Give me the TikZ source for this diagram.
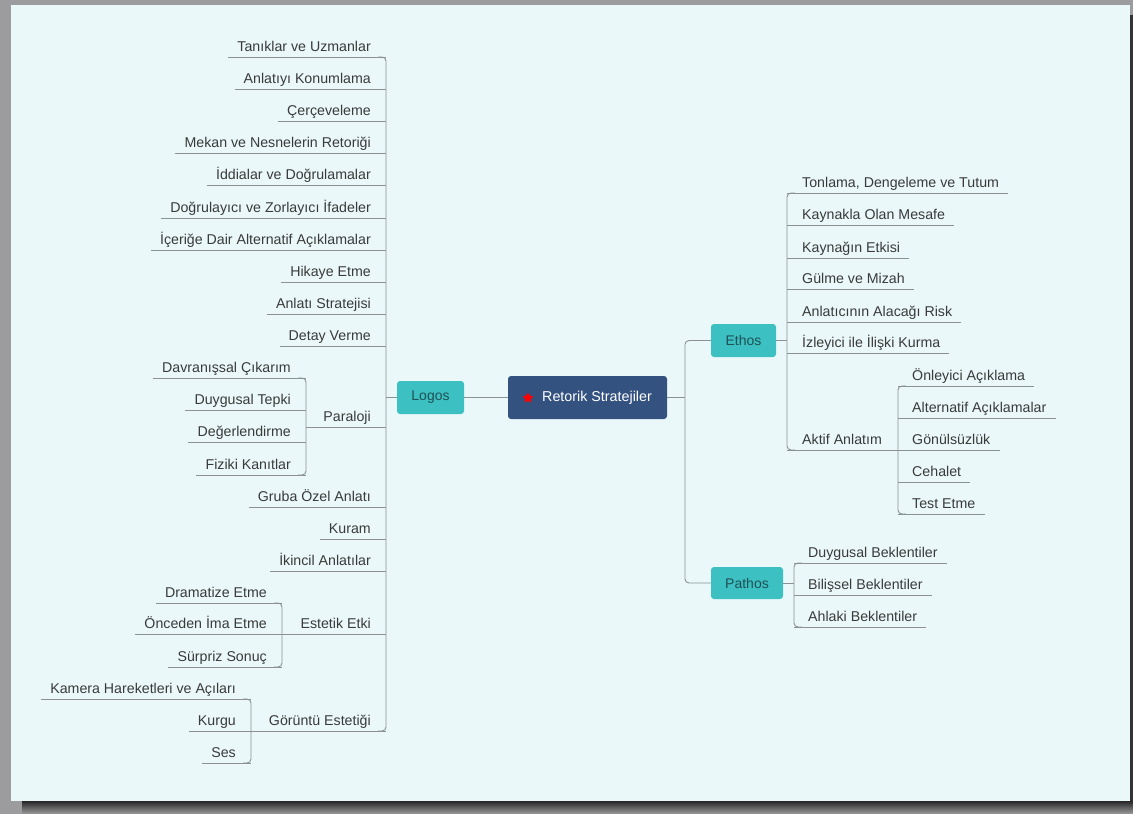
\documentclass[tikz,border=0pt]{standalone}
\usepackage{fontspec}
\setmainfont{Liberation Sans}
\usetikzlibrary{calc,shapes.geometric}
\definecolor{canvas}{HTML}{EAF8F9}
\definecolor{outer}{HTML}{9C9C9E}
\definecolor{edge}{HTML}{8C9194}
\definecolor{txt}{HTML}{3A3A3A}
\definecolor{tealbox}{HTML}{3CC0C1}
\definecolor{tealtxt}{HTML}{1F5157}
\definecolor{navy}{HTML}{34527F}
\tikzset{
  lbl/.style={inner sep=0pt, text=txt, font=\fontsize{14.2}{16}\selectfont},
  conn/.style={draw=edge, line width=0.9pt},
  spine/.style={draw=edge, line width=0.9pt, rounded corners=4pt},
  cat/.style={fill=tealbox, rounded corners=3pt, text=tealtxt, inner sep=0pt,
    font=\fontsize{14}{16}\selectfont},
}
% left item: name, text right x, spine x, underline y, text
\newcommand\LItem[5]{%
  \node[lbl, anchor=base east] (#1) at (#2,#4-6) {#5};
  \draw[conn] ($(#1.base west)+(-9,6)$) -- (#3,#4);}
% right item: name, text left x, spine x, underline y, text
\newcommand\RItem[5]{%
  \node[lbl, anchor=base west] (#1) at (#2,#4-6) {#5};
  \draw[conn] (#3,#4) -- ($(#1.base east)+(9,6)$);}
\begin{document}
\begin{tikzpicture}[x=1pt,y=-1pt]
\useasboundingbox (0,0) rectangle (1133,814);
\fill[outer] (0,0) rectangle (1133,814);
\shade[top color=black!85, bottom color=outer] (22,801) rectangle (1133,814);
\fill[black!80] (1129,15) rectangle (1133,801);
\fill[canvas] (11,5) rectangle (1130,801);

% central nodes
\node[fill=navy, rounded corners=3pt, minimum width=159pt, minimum height=43pt, inner sep=0pt] (root) at (587.5,397.5) {};
\node[star, star points=5, star point ratio=1.8, fill=red, draw=none, minimum size=11pt, inner sep=0pt] (icon) at (528,398) {};
\node[inner sep=0pt, text=white, font=\fontsize{14.3}{16}\selectfont, anchor=west] (roottext) at (542,397.5) {Retorik Stratejiler};
\node[cat, minimum width=67pt, minimum height=33pt] (logos) at (430.5,397.5) {Logos};
\node[cat, minimum width=65pt, minimum height=33pt] (ethos) at (743.5,340.5) {Ethos};
\node[cat, minimum width=72pt, minimum height=32pt] (pathos) at (747,583) {Pathos};

\draw[conn] (logos.east) -- (root.west);
\coordinate (lsp) at (386,397.5);
\draw[conn] (lsp) -- (logos.west);
\coordinate (rsp) at (685,397.5);
\draw[conn] (root.east) -- (rsp);
\draw[spine] (ethos.west) -- (685,340.5) -- (685,583) -- (pathos.west);

% left spine
\draw[spine] (378,57) -- (386,57) -- (386,731) -- (378,731);
\LItem{tan}{371}{386}{57}{Tanıklar ve Uzmanlar}
\LItem{anl}{371}{386}{89}{Anlatıyı Konumlama}
\LItem{cer}{371}{386}{121}{Çerçeveleme}
\LItem{mek}{371}{386}{153}{Mekan ve Nesnelerin Retoriği}
\LItem{idd}{371}{386}{185}{İddialar ve Doğrulamalar}
\LItem{dog}{371}{386}{218}{Doğrulayıcı ve Zorlayıcı İfadeler}
\LItem{ice}{371}{386}{250}{İçeriğe Dair Alternatif Açıklamalar}
\LItem{hik}{371}{386}{282}{Hikaye Etme}
\LItem{str}{371}{386}{314}{Anlatı Stratejisi}
\LItem{det}{371}{386}{346}{Detay Verme}
\LItem{gru}{371}{386}{507}{Gruba Özel Anlatı}
\LItem{kur}{371}{386}{539}{Kuram}
\LItem{iki}{371}{386}{571}{İkincil Anlatılar}

% Paraloji
\node[lbl, anchor=base east] (par) at (371,421) {Paraloji};
\draw[conn] (306,427) -- (386,427);
\draw[spine] (298,378) -- (306,378) -- (306,475) -- (298,475);
\LItem{dav}{291}{306}{378}{Davranışsal Çıkarım}
\LItem{duy}{291}{306}{410}{Duygusal Tepki}
\LItem{deg}{291}{306}{442}{Değerlendirme}
\LItem{fiz}{291}{306}{475}{Fiziki Kanıtlar}

% Estetik Etki
\node[lbl, anchor=base east] (est) at (371,628) {Estetik Etki};
\draw[conn] (282,634) -- (386,634);
\draw[spine] (274,603) -- (282,603) -- (282,667) -- (274,667);
\LItem{dra}{267}{282}{603}{Dramatize Etme}
\LItem{onc}{267}{282}{634}{Önceden İma Etme}
\LItem{sur}{267}{282}{667}{Sürpriz Sonuç}

% Görüntü Estetiği
\node[lbl, anchor=base east] (gor) at (371,725) {Görüntü Estetiği};
\draw[conn] (251,731) -- (386,731);
\draw[spine] (243,699) -- (251,699) -- (251,763) -- (243,763);
\LItem{kam}{236}{251}{699}{Kamera Hareketleri ve Açıları}
\LItem{kurgu}{236}{251}{731}{Kurgu}
\LItem{ses}{236}{251}{763}{Ses}

% Ethos
\coordinate (esp) at (787,340.5);
\draw[conn] (ethos.east) -- (esp);
\draw[spine] (795,193) -- (787,193) -- (787,450) -- (795,450);
\RItem{ton}{802}{787}{193}{Tonlama, Dengeleme ve Tutum}
\RItem{kay}{802}{787}{225}{Kaynakla Olan Mesafe}
\RItem{kag}{802}{787}{258}{Kaynağın Etkisi}
\RItem{gul}{802}{787}{289}{Gülme ve Mizah}
\RItem{ris}{802}{787}{322}{Anlatıcının Alacağı Risk}
\RItem{izl}{802}{787}{353}{İzleyici ile İlişki Kurma}
\node[lbl, anchor=base west] (akt) at (802,444) {Aktif Anlatım};
\draw[conn] (787,450) -- (898,450);
\draw[spine] (906,386) -- (898,386) -- (898,514) -- (906,514);
\RItem{onl}{912}{898}{386}{Önleyici Açıklama}
\RItem{alt}{912}{898}{418}{Alternatif Açıklamalar}
\RItem{gon}{912}{898}{450}{Gönülsüzlük}
\RItem{ceh}{912}{898}{482}{Cehalet}
\RItem{tes}{912}{898}{514}{Test Etme}

% Pathos
\coordinate (psp) at (794,583);
\draw[conn] (pathos.east) -- (psp);
\draw[spine] (802,563) -- (794,563) -- (794,627) -- (802,627);
\RItem{duyb}{808}{794}{563}{Duygusal Beklentiler}
\RItem{bil}{808}{794}{595}{Bilişsel Beklentiler}
\RItem{ahl}{808}{794}{627}{Ahlaki Beklentiler}
\end{tikzpicture}
\end{document}
